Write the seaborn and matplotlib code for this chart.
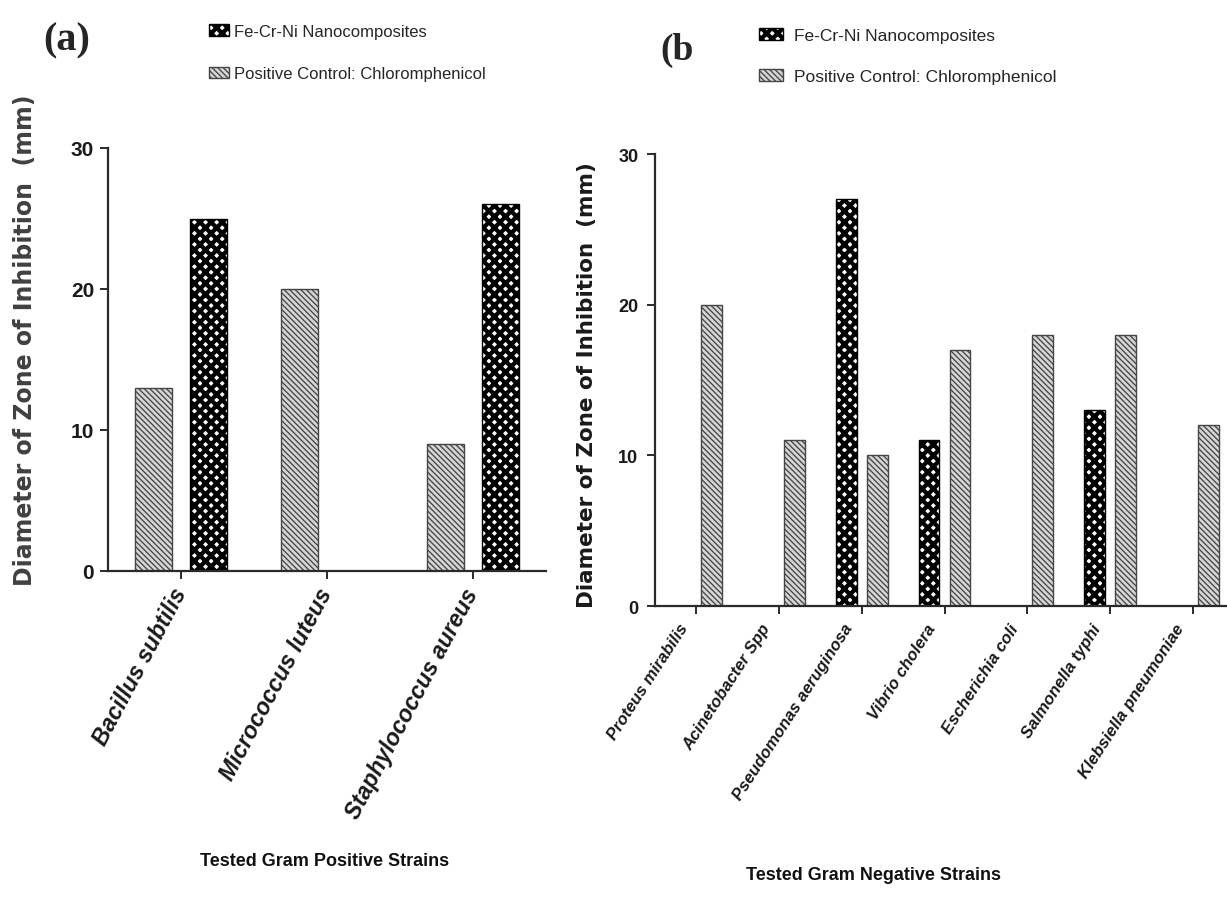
import matplotlib
matplotlib.use("Agg")
import matplotlib.pyplot as plt
import matplotlib.patches as mpatches
import matplotlib.transforms as mtransforms
import seaborn as sns
import pandas as pd

# Zone of inhibition (mm) for each tested strain
gp_strains = ["Bacillus subtilis", "Micrococcus luteus", "Staphylococcus aureus"]
gp_nano = [25, 0, 26]
gp_ctrl = [13, 20, 9]

gn_strains = ["Proteus mirabilis", "Acinetobacter Spp", "Pseudomonas aeruginosa",
              "Vibrio cholera", "Escherichia coli", "Salmonella typhi",
              "Klebsiella pneumoniae"]
gn_nano = [0, 0, 27, 11, 0, 13, 0]
gn_ctrl = [20, 11, 10, 17, 18, 18, 12]

NANO = "Fe-Cr-Ni Nanocomposites"
CTRL = "Positive Control: Chloromphenicol"
yticks = [0, 10, 20, 30]

sns.set_theme(style="white")
plt.rcParams["font.family"] = ["Liberation Sans", "DejaVu Sans"]

SANS = ["Liberation Sans", "DejaVu Sans"]
WIDE = ["DejaVu Sans"]

STYLE = {
    NANO: dict(face="white", edge="black", hatch="xxx", hlw=3.1, lw=1.0),
    CTRL: dict(face="#d6d6d6", edge="#454545", hatch="\\" * 6, hlw=0.95, lw=1.0),
}


def long_table(strains, nano, ctrl):
    return pd.DataFrame({
        "strain": strains * 2,
        "value": nano + ctrl,
        "group": [NANO] * len(strains) + [CTRL] * len(strains),
    })


def style_patch(p, key):
    s = STYLE[key]
    p.set_facecolor(s["face"])
    p.set_edgecolor(s["edge"])
    p.set_hatch(s["hatch"])
    p.set_linewidth(s["lw"])
    if hasattr(p, "set_hatch_linewidth"):
        p.set_hatch_linewidth(s["hlw"])


def draw_panel(ax, strains, nano, ctrl, order, tick_fs, ypad, rot, xlab_fs,
               xpad, shift):
    df = long_table(strains, nano, ctrl)
    sns.barplot(data=df, x="strain", y="value", hue="group", hue_order=order,
                order=strains, width=0.75, gap=0.33, legend=False, ax=ax,
                errorbar=None)
    for key, cont in zip(order, ax.containers):
        for p in cont:
            style_patch(p, key)
    ax.set_ylim(0, 30)
    ax.set_yticks(yticks)
    ax.set_xlabel("")
    ax.set_ylabel("")
    sns.despine(ax=ax)
    ax.spines["left"].set_bounds(0, 30)
    for sp in ("left", "bottom"):
        ax.spines[sp].set_linewidth(1.6)
        ax.spines[sp].set_color("#2a2a2a")
    ax.tick_params(axis="both", direction="out", length=6, width=1.4,
                   color="#2a2a2a", bottom=True, left=True)
    ax.tick_params(axis="y", pad=ypad)
    ax.tick_params(axis="x", pad=xpad)
    for t in ax.get_yticklabels():
        t.set_fontweight("bold")
        t.set_fontsize(tick_fs)
        t.set_color("#1a1a1a")
    offset = mtransforms.ScaledTranslation(shift[0], shift[1], fig.dpi_scale_trans)
    for t in ax.get_xticklabels():
        t.set_rotation(rot)
        t.set_ha("right")
        t.set_va("center")
        t.set_rotation_mode("anchor")
        t.set_fontstyle("italic")
        t.set_fontweight("bold")
        t.set_fontsize(xlab_fs)
        t.set_color("#1a1a1a")
        t.set_transform(t.get_transform() + offset)


W, H = 1227, 904
fig = plt.figure(figsize=(W / 100, H / 100), dpi=100)

ax_a = fig.add_axes([108 / W, 1 - 572 / H, (546 - 108) / W, (572 - 149) / H])
ax_b = fig.add_axes([655 / W, 1 - 607 / H, (1234 - 655) / W, (607 - 155) / H])

draw_panel(ax_a, gp_strains, gp_nano, gp_ctrl, [CTRL, NANO],
           tick_fs=15, ypad=4, rot=62, xlab_fs=16.5, xpad=7, shift=(0, 0))
draw_panel(ax_b, gn_strains, gn_nano, gn_ctrl, [NANO, CTRL],
           tick_fs=13, ypad=6, rot=57, xlab_fs=12, xpad=4, shift=(-0.12, -0.05))

# Axis titles
fig.text(25 / W, 1 - 340 / H, "Diameter of Zone of Inhibition  (mm)",
         rotation=90, ha="center", va="center", fontsize=17,
         family=WIDE, fontweight="bold", color="#404040")
fig.text(587 / W, 1 - 385 / H, "Diameter of Zone of Inhibition  (mm)",
         rotation=90, ha="center", va="center", fontsize=15.5,
         family=WIDE, fontweight="bold", color="#1a1a1a")
fig.text(325 / W, 1 - 862 / H, "Tested Gram Positive Strains", ha="center",
         va="center", fontsize=13, family=SANS, fontweight="bold", color="#111111")
fig.text(874 / W, 1 - 876 / H, "Tested Gram Negative Strains", ha="center",
         va="center", fontsize=13, family=SANS, fontweight="bold", color="#111111")

# Panel letters
fig.text(43 / W, 1 - 22 / H, "(a)", ha="left", va="top", fontsize=29,
         family=["Liberation Serif", "DejaVu Serif"], fontweight="bold")
fig.text(660 / W, 1 - 33 / H, "(b", ha="left", va="top", fontsize=27,
         family=["Liberation Serif", "DejaVu Serif"], fontweight="bold")


def legend_handles():
    return [mpatches.Patch(label=key) for key in (NANO, CTRL)]


def restyle_legend(leg):
    for key, p in zip((NANO, CTRL), leg.get_patches()):
        style_patch(p, key)


leg_a = fig.legend(handles=legend_handles(), loc="upper left",
                   bbox_to_anchor=(209 / W, 1 - 25 / H), frameon=False, borderpad=0,
                   borderaxespad=0, handlelength=1.2, handleheight=0.7,
                   handletextpad=0.3, labelspacing=1.64,
                   prop=dict(family=SANS, size=12))
restyle_legend(leg_a)
leg_b = fig.legend(handles=legend_handles(), loc="upper left",
                   bbox_to_anchor=(759 / W, 1 - 29 / H), frameon=False, borderpad=0,
                   borderaxespad=0, handlelength=1.4, handleheight=0.65,
                   handletextpad=0.6, labelspacing=1.5,
                   prop=dict(family=SANS, size=12.5))
restyle_legend(leg_b)

fig.savefig("out.png", dpi=100)
